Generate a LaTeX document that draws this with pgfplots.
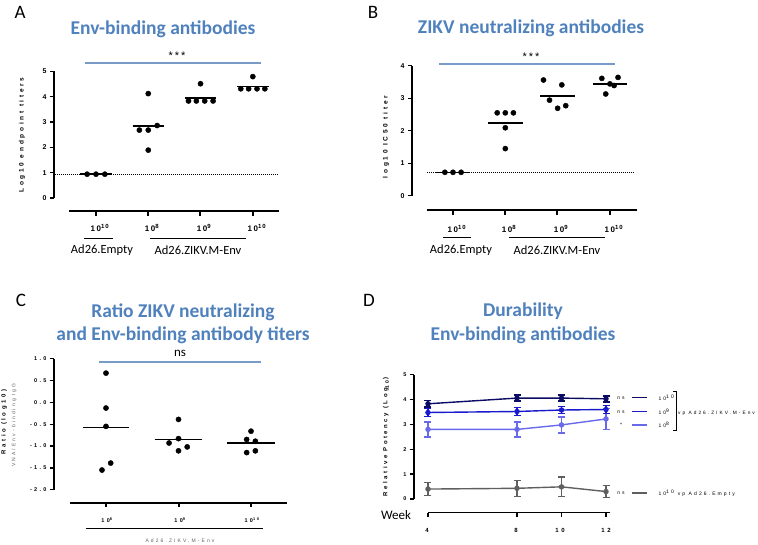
\documentclass[border=0pt]{standalone}
\usepackage{pgfplots}
\pgfplotsset{compat=1.18}
\usepackage{fontspec}
\setmainfont{Liberation Sans}
\newfontfamily\calfont{Carlito}
\newfontfamily\gp[LetterSpace=42]{Liberation Sans}
\newfontfamily\gps[LetterSpace=18]{Liberation Sans}

\definecolor{ttl}{RGB}{79,129,189}
\definecolor{sig}{RGB}{120,155,200}
\definecolor{navy}{RGB}{12,12,100}
\definecolor{blu}{RGB}{25,25,205}
\definecolor{lblu}{RGB}{105,105,235}
\definecolor{gry}{RGB}{95,95,95}

\pgfplotsset{
  panel/.style={scale only axis, clip=false, anchor=south west,
    axis x line=none, axis y line*=left,
    axis line style={line width=1.5pt, black},
    ytick align=outside, major tick length=4pt,
    tick style={line width=1.3pt, black},
    /pgf/number format/assume math mode=true},
  dots/.style={only marks, mark=*, mark size=2.6pt, black},
  med/.style={black, line width=1.5pt, no marks},
  dur/.style={line width=1.4pt, mark=*, mark size=2pt,
    error bars/y dir=both, error bars/y explicit,
    error bars/error bar style={line width=1.4pt},
    error bars/error mark options={rotate=90, mark size=3.5pt, line width=1.4pt}},
}

\begin{document}
\begin{tikzpicture}
\path[use as bounding box] (0,0) rectangle (758pt,-544pt);

% ---- A: Env-binding antibodies
\begin{axis}[panel, at={(54pt,-198pt)}, width=226pt, height=126.7pt,
  xmin=0.197, xmax=4.52, ymin=0, ymax=5, ytick={0,...,5},
  yticklabel style={font=\gp\bfseries\fontsize{7}{8}\selectfont}]
\addplot[black, densely dotted, line width=1pt] coordinates {(0.216,0.94) (4.48,0.94)};
\addplot[med] coordinates {(0.7,0.94) (1.3,0.94)};
\addplot[dots] coordinates {(0.83,0.94) (1,0.94) (1.17,0.94)};
\addplot[med] coordinates {(1.7,2.85) (2.3,2.85)};
\addplot[dots] coordinates {(2,4.12) (2.17,2.86) (1.83,2.68) (2,2.68) (2,1.89)};
\addplot[med] coordinates {(2.7,3.95) (3.3,3.95)};
\addplot[dots] coordinates {(3,4.51) (2.77,3.83) (2.92,3.83) (3.08,3.83) (3.24,3.83)};
\addplot[med] coordinates {(3.7,4.40) (4.3,4.40)};
\addplot[dots] coordinates {(4,4.79) (3.77,4.31) (3.92,4.31) (4.08,4.31) (4.23,4.31)};
\end{axis}

% ---- B: ZIKV neutralizing antibodies
\begin{axis}[panel, at={(412pt,-195.7pt)}, width=228pt, height=130pt,
  xmin=0.216, xmax=4.575, ymin=0, ymax=4, ytick={0,...,4},
  yticklabel style={font=\gp\bfseries\fontsize{7}{8}\selectfont}]
\addplot[black, densely dotted, line width=1pt] coordinates {(0.50,0.70) (4.46,0.70)};
\addplot[med] coordinates {(0.67,0.72) (1.33,0.72)};
\addplot[dots] coordinates {(0.845,0.72) (1,0.72) (1.155,0.72)};
\addplot[med] coordinates {(1.67,2.24) (2.33,2.24)};
\addplot[dots] coordinates {(1.845,2.55) (2,2.55) (2.155,2.55) (2,2.09) (2,1.45)};
\addplot[med] coordinates {(2.67,3.07) (3.33,3.07)};
\addplot[dots] coordinates {(2.73,3.56) (3.08,3.41) (2.845,2.94) (3,2.69) (3.155,2.77)};
\addplot[med] coordinates {(3.67,3.44) (4.33,3.44)};
\addplot[dots] coordinates {(3.845,3.61) (4.155,3.64) (4,3.44) (4.08,3.39) (3.92,3.13)};
\end{axis}

% ---- C: Ratio
\begin{axis}[panel, at={(54pt,-489.7pt)}, width=234pt, height=131pt,
  xmin=0.283, xmax=3.51, ymin=-2, ymax=1,
  ytick={-2,-1.5,-1,-0.5,0,0.5,1},
  yticklabels={-2.0,-1.5,-1.0,-0.5,0.0,0.5,1.0},
  yticklabel style={font=\gp\bfseries\fontsize{5.5}{6}\selectfont}]
\addplot[med] coordinates {(0.68,-0.58) (1.32,-0.58)};
\addplot[dots] coordinates {(1,0.67) (1,-0.13) (1,-0.55) (1.065,-1.39) (0.945,-1.55)};
\addplot[med] coordinates {(1.67,-0.85) (2.33,-0.85)};
\addplot[dots] coordinates {(2,-0.39) (2,-0.83) (1.87,-0.93) (2.12,-1.02) (2,-1.11)};
\addplot[med] coordinates {(2.67,-0.93) (3.33,-0.93)};
\addplot[dots] coordinates {(3,-0.66) (2.94,-0.85) (3.06,-0.89) (2.94,-1.15) (3.06,-1.11)};
\end{axis}

% ---- D: Durability
\begin{axis}[panel, at={(414pt,-499pt)}, width=198pt, height=124.3pt,
  xmin=3.371, xmax=12.27, ymin=0, ymax=5, ytick={0,...,5},
  yticklabel style={font=\gp\bfseries\fontsize{5.5}{6}\selectfont}]
\addplot[dur, color=gry] coordinates {(4,0.40) +- (0,0.27) (8,0.43) +- (0,0.32) (10,0.49) +- (0,0.40) (12,0.30) +- (0,0.25)};
\addplot[dur, color=lblu] coordinates {(4,2.80) +- (0,0.30) (8,2.80) +- (0,0.30) (10,2.98) +- (0,0.32) (12,3.22) +- (0,0.42)};
\addplot[dur, color=blu] coordinates {(4,3.48) +- (0,0.15) (8,3.52) +- (0,0.15) (10,3.58) +- (0,0.15) (12,3.60) +- (0,0.16)};
\addplot[dur, color=navy] coordinates {(4,3.83) +- (0,0.13) (8,4.06) +- (0,0.12) (10,4.06) +- (0,0.12) (12,4.03) +- (0,0.12)};
\end{axis}

\begin{scope}[x=1pt, y=-1pt]
% panel letters
\foreach \l/\x/\y in {A/20/12, B/373/12, C/21/300, D/369/300}
  \node[font=\calfont\fontsize{19}{20}\selectfont] at (\x,\y) {\l};
% titles
\node[font=\calfont\bfseries\fontsize{19.5}{21}\selectfont, text=ttl] at (163,29) {Env-binding antibodies};
\node[font=\calfont\bfseries\fontsize{19.5}{21}\selectfont, text=ttl] at (531,28) {ZIKV neutralizing antibodies};
\node[font=\calfont\bfseries\fontsize{19.5}{21}\selectfont, text=ttl] at (183,312) {Ratio ZIKV neutralizing};
\node[font=\calfont\bfseries\fontsize{19.5}{21}\selectfont, text=ttl] at (183,335) {and Env-binding antibody titers};
\node[font=\calfont\bfseries\fontsize{19.5}{21}\selectfont, text=ttl] at (523,311) {Durability};
\node[font=\calfont\bfseries\fontsize{19.5}{21}\selectfont, text=ttl] at (523,335) {Env-binding antibodies};
% significance bars
\draw[sig, line width=1.2pt] (85,63) -- (261,63);
\node[font=\gps\fontsize{11}{11}\selectfont] at (177,56) {***};
\draw[sig, line width=1.2pt] (439,64) -- (615,64);
\node[font=\gps\fontsize{11}{11}\selectfont] at (531,57) {***};
\draw[sig, line width=1.2pt] (99,362) -- (261,362);
\node[font=\calfont\fontsize{13}{13}\selectfont] at (180,353) {ns};
% y labels
\node[rotate=90, font=\gp\bfseries\fontsize{6.5}{7}\selectfont] at (22,135) {Log10 endpoint titers};
\node[rotate=90, font=\gp\bfseries\fontsize{6.5}{7}\selectfont] at (386,137) {log10 IC50 titer};
\node[rotate=90, font=\gp\bfseries\fontsize{6}{7}\selectfont] at (4,422) {Ratio  (log10)};
\node[rotate=90, font=\gp\fontsize{5}{6}\selectfont, text=gry] at (14,425) {VNA/Env-binding IgG};
\node[rotate=90, font=\gp\bfseries\fontsize{6}{7}\selectfont] at (386,437) {Relative Potency (Log\textsubscript{10})};
% A category axis
\draw[line width=1.5pt] (69,211) -- (279,211);
\foreach \x in {96,148,200,253} \draw[line width=1.3pt] (\x,211) -- (\x,215.5);
\node[font=\gps\bfseries\fontsize{8}{9}\selectfont] at (100,228) {10\textsuperscript{10}};
\node[font=\gps\bfseries\fontsize{8}{9}\selectfont] at (152,228) {10\textsuperscript{8}};
\node[font=\gps\bfseries\fontsize{8}{9}\selectfont] at (204,228) {10\textsuperscript{9}};
\node[font=\gps\bfseries\fontsize{8}{9}\selectfont] at (257,228) {10\textsuperscript{10}};
\draw[line width=1pt] (84,238) -- (113,238);
\draw[line width=1pt] (150,238) -- (246,238);
\node[font=\calfont\fontsize{12.5}{13}\selectfont] at (102,250) {Ad26.Empty};
\node[font=\calfont\fontsize{12.5}{13}\selectfont] at (198,250) {Ad26.ZIKV.M-Env};
% B category axis
\draw[line width=1.5pt] (427,210) -- (637,210);
\foreach \x in {453,505,557,610} \draw[line width=1.3pt] (\x,210) -- (\x,214.5);
\node[font=\gps\bfseries\fontsize{8}{9}\selectfont] at (457,229) {10\textsuperscript{10}};
\node[font=\gps\bfseries\fontsize{8}{9}\selectfont] at (509,229) {10\textsuperscript{8}};
\node[font=\gps\bfseries\fontsize{8}{9}\selectfont] at (561,229) {10\textsuperscript{9}};
\node[font=\gps\bfseries\fontsize{8}{9}\selectfont] at (614,229) {10\textsuperscript{10}};
\draw[line width=1pt] (443,237.5) -- (471,237.5);
\draw[line width=1pt] (509,237.5) -- (605,237.5);
\node[font=\calfont\fontsize{12.5}{13}\selectfont] at (461,250) {Ad26.Empty};
\node[font=\calfont\fontsize{12.5}{13}\selectfont] at (557,250) {Ad26.ZIKV.M-Env};
% C category axis
\draw[line width=1.5pt] (70,503) -- (287,503);
\foreach \x in {106,179,251} \draw[line width=1.3pt] (\x,503) -- (\x,507);
\node[font=\gp\bfseries\fontsize{5.5}{6}\selectfont] at (107,520) {10\textsuperscript{8}};
\node[font=\gp\bfseries\fontsize{5.5}{6}\selectfont] at (180,520) {10\textsuperscript{9}};
\node[font=\gp\bfseries\fontsize{5.5}{6}\selectfont] at (252,520) {10\textsuperscript{10}};
\draw[line width=1pt] (86,528) -- (263,528);
\node[font=\gp\fontsize{5}{6}\selectfont, text=gry] at (180,541) {Ad26.ZIKV.M-Env};
% D time axis
\draw[line width=1.5pt] (428,512.7) -- (610,512.7);
\foreach \x in {428,517,561.5,606} \draw[line width=1.3pt] (\x,512.7) -- (\x,517);
\node[font=\gp\bfseries\fontsize{6}{7}\selectfont] at (427,530) {4};
\node[font=\gp\bfseries\fontsize{6}{7}\selectfont] at (516,530) {8};
\node[font=\gp\bfseries\fontsize{6}{7}\selectfont] at (560,530) {10};
\node[font=\gp\bfseries\fontsize{6}{7}\selectfont] at (606,530) {12};
\node[font=\calfont\fontsize{13}{14}\selectfont] at (396,515) {Week};
% D legend
\foreach \yy/\c/\s in {397.7/navy/ns, 411.7/blu/ns, 425/lblu/*, 493/gry/ns} {
  \node[font=\gp\fontsize{5}{6}\selectfont] at (621,\yy) {\s};
  \draw[\c, line width=1.4pt] (632,\yy) -- (647,\yy);
}
\node[anchor=west, font=\gp\fontsize{5}{6}\selectfont] at (655,397.7) {10\textsuperscript{10}};
\node[anchor=west, font=\gp\fontsize{5}{6}\selectfont] at (655,411.7) {10\textsuperscript{9}};
\node[anchor=west, font=\gp\fontsize{5}{6}\selectfont] at (655,425) {10\textsuperscript{8}};
\node[anchor=west, font=\gp\fontsize{5}{6}\selectfont] at (655,493) {10\textsuperscript{10} vp Ad26.Empty};
\draw[line width=0.6pt] (673,391) -- (676,391) -- (676,430) -- (673,430);
\node[anchor=west, inner sep=1pt, font=\gp\fontsize{4.8}{6}\selectfont] at (677,413) {vp Ad26.ZIKV.M-Env};
\end{scope}
\end{tikzpicture}
\end{document}
